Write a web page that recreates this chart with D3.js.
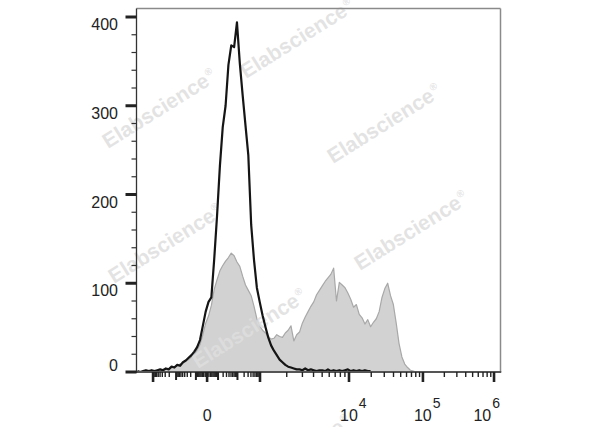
<!DOCTYPE html>
<html>
<head>
<meta charset="utf-8">
<script src="https://cdn.jsdelivr.net/npm/d3@7"></script>
<style>
  html, body { margin: 0; padding: 0; background: #fff; }
  svg { display: block; }
</style>
</head>
<body>
<div id="chart"></div>
<script>
// ---------------- data ----------------
const channelCount = 128;
// decade values and the channel at which each sits on the biexponential axis
const decadeValues = [-1000, 0, 1000, 10000, 100000, 1000000];
const decadeChannels = [6.0, 25.0, 43.6, 74.9, 100.9, 125.9];
const xLabelValues = [0, 10000, 100000, 1000000];
const xLabelExponents = [null, 4, 5, 6];
const yTickValues = [0, 100, 200, 300, 400];

// counts per channel (black outline: control/unstained; gray fill: stained sample)
const blackCounts = [
  1,0,1,2,1,2,1,2,3,2,
  4,3,6,5,8,7,11,13,16,19,
  23,28,36,52,68,79,84,127,176,232,
  276,300,346,368,366,394,348,312,278,244,
  166,126,95,79,64,51,39,30,24,19,
  14,11,8,6,5,4,3,3,2,4,
  2,3,2,1,2,2,1,3,1,2,
  1,2,1,2,3,1,2,1,2,1,
  2,1,1
];
const grayCounts = [
  0,0,0,0,0,1,1,2,2,3,
  3,4,5,6,7,9,10,12,14,17,
  20,25,31,42,55,63,75,93,104,114,
  120,125,129,134,131,124,119,108,98,92,
  86,74,60,52,47,44,40,37,38,42,
  40,39,44,47,52,35,42,45,55,62,
  68,74,79,87,92,97,102,106,110,117,
  80,101,98,95,89,82,73,76,65,61,
  54,59,51,56,60,68,84,94,100,86,
  76,55,32,17,9,5,2,1,0,0,
  0
];
const watermarkText = "Elabscience";

// ---------------- layout ----------------
const W = 600, H = 427;
const plot = { left: 136.5, right: 500.5, top: 8.5, bottom: 372 };

const svg = d3.select("#chart").append("svg")
  .attr("width", W).attr("height", H)
  .style("font-family", "'Liberation Sans', Arial, Helvetica, sans-serif");

// scales
const xChan = d3.scaleLinear().domain([0, channelCount]).range([plot.left - 0.5, plot.right - 0.5]);
const biex = v => Math.sign(v) * Math.log10(1 + Math.abs(v) / 5);
const valueToChannel = d3.scaleLinear().domain(decadeValues.map(biex)).range(decadeChannels);
const xVal = v => xChan(valueToChannel(biex(v)));
const y = d3.scaleLinear().domain([0, 400]).range([plot.bottom, 17]);

// ---------------- gray histogram ----------------
const grayPts = grayCounts.map((c, i) => [xChan(i + 0.5), y(c)]);
svg.append("path")
  .attr("d", d3.area().x(d => d[0]).y0(y(0)).y1(d => d[1])(grayPts))
  .attr("fill", "#d2d2d2");
svg.append("path")
  .attr("d", d3.line()(grayPts))
  .attr("fill", "none").attr("stroke", "#a8a8a8").attr("stroke-width", 1.2)
  .attr("stroke-linejoin", "round");

// ---------------- watermarks ----------------
const wmPlaces = [
  [108, 149], [246, 79], [333, 164], [114, 284], [360, 271], [198, 369], [243, 495]
];
const wm = svg.append("g").attr("fill", "#dedede").attr("fill-opacity", 0.85)
  .style("font-weight", "bold").style("font-size", "21px");
wmPlaces.forEach(p => {
  const t = wm.append("text").attr("transform", `translate(${p[0]},${p[1]}) rotate(-32)`);
  t.append("tspan").text(watermarkText);
  t.append("tspan").attr("dy", -9).attr("dx", 1).style("font-size", "10px").text("\u00AE");
});

// ---------------- black histogram ----------------
const blackPts = blackCounts.map((c, i) => [xChan(i + 0.5), y(c)]);
svg.append("path")
  .attr("d", d3.line()(blackPts))
  .attr("fill", "none").attr("stroke", "#151515").attr("stroke-width", 2.2)
  .attr("stroke-linejoin", "round");

// ---------------- frame ----------------
svg.append("line").attr("x1", plot.left).attr("x2", plot.right).attr("y1", plot.top).attr("y2", plot.top)
  .attr("stroke", "#8a8a8a").attr("stroke-width", 1.5);
svg.append("line").attr("x1", plot.right).attr("x2", plot.right).attr("y1", plot.top).attr("y2", plot.bottom)
  .attr("stroke", "#8a8a8a").attr("stroke-width", 1.5);
svg.append("line").attr("x1", plot.left).attr("x2", plot.right + 0.75).attr("y1", plot.bottom).attr("y2", plot.bottom)
  .attr("stroke", "#555").attr("stroke-width", 2);
svg.append("line").attr("x1", plot.left).attr("x2", plot.left).attr("y1", plot.top).attr("y2", plot.bottom + 1)
  .attr("stroke", "#333").attr("stroke-width", 1.3);

// ---------------- y axis ----------------
const yg = svg.append("g");
const yMinor = d3.range(0, 401, 20).filter(v => v % 100 !== 0);
yg.selectAll("line.minor").data(yMinor).join("line")
  .attr("x1", plot.left - 5).attr("x2", plot.left)
  .attr("y1", d => y(d)).attr("y2", d => y(d))
  .attr("stroke", "#333").attr("stroke-width", 1.2);
yg.selectAll("line.major").data(yTickValues).join("line")
  .attr("x1", plot.left - 11).attr("x2", plot.left)
  .attr("y1", d => y(d)).attr("y2", d => y(d))
  .attr("stroke", "#222").attr("stroke-width", 3);
yg.selectAll("text").data(yTickValues).join("text")
  .attr("x", 118).attr("y", d => y(d))
  .attr("dy", d => d === 0 ? -1 : 13)
  .attr("text-anchor", "end").attr("fill", "#222").style("font-size", "16px")
  .text(d => d);

// ---------------- x axis ----------------
const xg = svg.append("g");
const minorVals = [];
for (let k = 0; k <= 5; k++) for (let m = 1; m <= 9; m++) {
  const v = m * Math.pow(10, k);
  if (m === 1 && (k === 0)) { minorVals.push(v, -v); continue; }
  if (m === 1) continue;
  minorVals.push(v);
  if (k <= 2) minorVals.push(-v);
}
const mediumVals = [-100, -10, 10, 100];
const tickSpec = [
  ...minorVals.map(v => ({ v, len: 5, w: 1.4 })),
  ...mediumVals.map(v => ({ v, len: 8, w: 2 })),
  ...decadeValues.map(v => ({ v, len: 10, w: 2.6 }))
];
xg.selectAll("line").data(tickSpec).join("line")
  .attr("x1", d => xVal(d.v)).attr("x2", d => xVal(d.v))
  .attr("y1", plot.bottom).attr("y2", d => plot.bottom + d.len)
  .attr("stroke", "#222").attr("stroke-width", d => d.w);

xLabelValues.forEach((v, i) => {
  const e = xLabelExponents[i];
  const px = xVal(v);
  if (e === null) {
    xg.append("text").attr("x", px).attr("y", 421).attr("text-anchor", "middle")
      .attr("fill", "#222").style("font-size", "16px").text("0");
  } else {
    const last = i === xLabelValues.length - 1;
    const t = xg.append("text").attr("y", 421).attr("fill", "#222").style("font-size", "16px");
    if (last) t.attr("x", px + 6).attr("text-anchor", "end");
    else t.attr("x", px - 9).attr("text-anchor", "start");
    t.append("tspan").text("10");
    t.append("tspan").attr("dy", -13).attr("dx", 1).style("font-size", "14px").text(e);
  }
});
</script>
</body>
</html>
